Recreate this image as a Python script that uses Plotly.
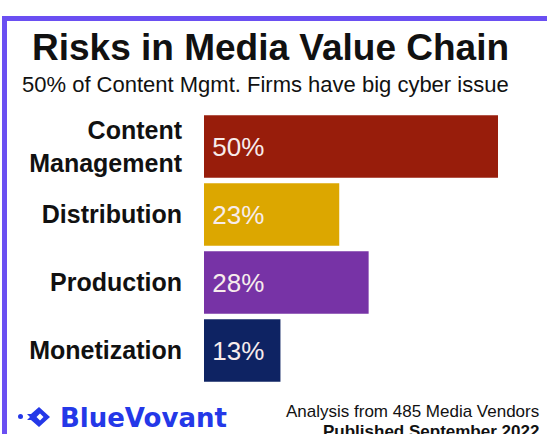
import plotly.graph_objects as go

W, H = 547, 434

categories = ["Content<br>Management", "Distribution", "Production", "Monetization"]
values = [50, 23, 28, 13]
labels = ["50%", "23%", "28%", "13%"]
colors = ["#981d0b", "#dca700", "#7733a6", "#0e2363"]


def px(x):
    return x / W


def py(y):
    # pixel from top -> paper fraction from bottom
    return 1 - y / H


def note(text, x, y, size, xanchor="center", bold=False, color="#111111",
         family="Liberation Sans, Arial"):
    return dict(text=f"<b>{text}</b>" if bold else text, x=px(x), y=py(y),
                xref="paper", yref="paper", xanchor=xanchor, yanchor="middle",
                showarrow=False, font=dict(family=family, size=size, color=color))


def path(points):
    return "M " + " L ".join(f"{px(x)},{py(y)}" for x, y in points) + " Z"


fig = go.Figure(go.Bar(
    x=values, y=categories, orientation="h",
    marker=dict(color=colors, line=dict(width=0)),
    width=0.92,
    text=["\u2009" + t for t in labels],
    textposition="inside", insidetextanchor="start",
    textfont=dict(family="Liberation Sans, Arial", size=26, color="#f7ecec"),
    hoverinfo="skip",
))

blue = "#2438e8"
fig.update_layout(
    width=W, height=H,
    margin=dict(l=0, r=0, t=0, b=0),
    paper_bgcolor="white", plot_bgcolor="white",
    showlegend=False,
    xaxis=dict(domain=[px(204), 1], range=[0, (547 - 204) / 5.88],
               visible=False, fixedrange=True),
    yaxis=dict(domain=[py(384.5), py(112.5)], range=[3.5, -0.5],
               tickvals=categories, ticktext=[f"<b>{c}</b>" for c in categories],
               showgrid=False, zeroline=False, showline=False, ticks="",
               ticklabelstandoff=21,
               tickfont=dict(family="Liberation Sans, Arial", size=25, color="#111111"),
               fixedrange=True),
    shapes=[
        dict(type="line", xref="paper", yref="paper", x0=px(4.5), x1=px(4.5),
             y0=py(16), y1=0, line=dict(color="#6a4ff2", width=5)),
        dict(type="line", xref="paper", yref="paper", x0=px(2), x1=1,
             y0=py(18.5), y1=py(18.5), line=dict(color="#6a4ff2", width=5)),
        # logo mark
        dict(type="circle", xref="paper", yref="paper",
             x0=px(18), x1=px(23), y0=py(419), y1=py(414),
             fillcolor=blue, line=dict(width=0)),
        dict(type="path", xref="paper", yref="paper",
             path=path([(39, 407), (50, 417), (39, 427), (31, 420), (27, 420),
                        (30, 417), (27, 414), (31, 414)]),
             fillcolor=blue, line=dict(width=0)),
        dict(type="path", xref="paper", yref="paper",
             path=path([(40, 413.5), (43.5, 417), (40, 420.5), (36.5, 417)]),
             fillcolor="white", line=dict(width=0)),
    ],
    annotations=[
        note("Risks in Media Value Chain", 270, 48, 37, bold=True),
        note("50% of Content Mgmt. Firms have big cyber issue", 265, 84, 22),
        note("BlueVovant", 58, 418, 26, xanchor="left", bold=True, color=blue,
             family="DejaVu Sans"),
        note("Analysis from 485 Media Vendors", 541, 411, 17, xanchor="right"),
        note("Published September 2022", 541, 431, 17, xanchor="right", bold=True),
    ],
)

fig.write_html("out.html", config=dict(displayModeBar=False),
               post_script="document.body.style.margin='0px';")
